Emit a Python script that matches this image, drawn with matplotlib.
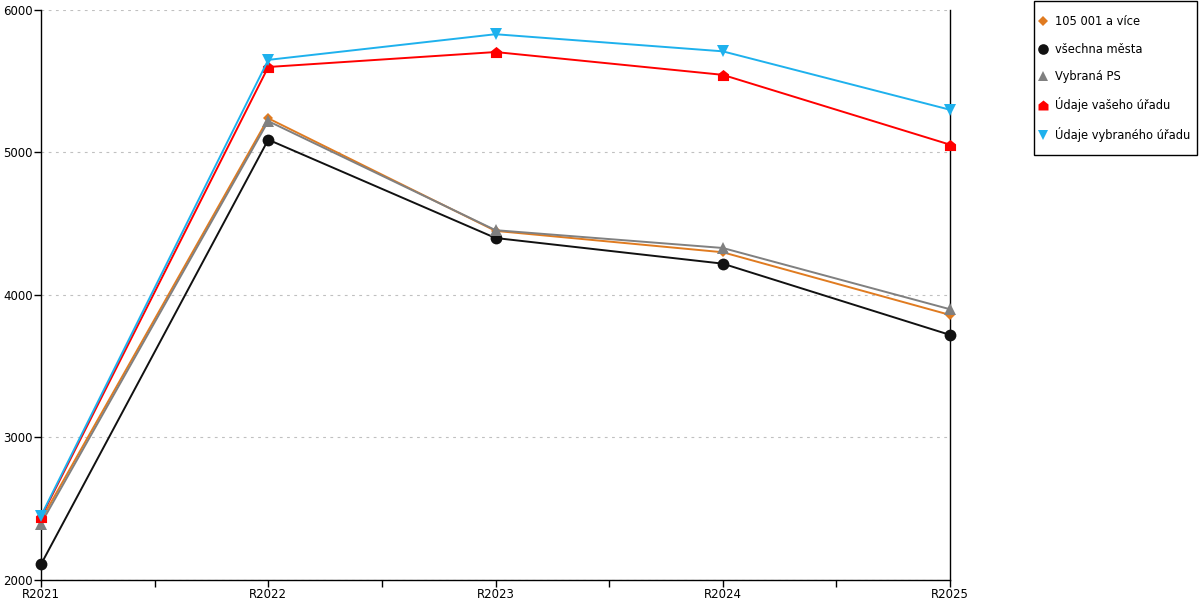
import matplotlib
matplotlib.use("Agg")
import matplotlib.pyplot as plt
from matplotlib.path import Path
from matplotlib.patches import Rectangle
from matplotlib.ticker import FixedLocator

years = ["R2021", "R2022", "R2023", "R2024", "R2025"]
city_big = [2420, 5240, 4450, 4300, 3860]
all_cities = [2110, 5090, 4400, 4220, 3720]
chosen_ps = [2395, 5220, 4455, 4330, 3900]
your_office = [2440, 5600, 5705, 5545, 5055]
chosen_office = [2450, 5650, 5830, 5710, 5300]

house = Path([(-1, -1), (1, -1), (1, 0.2), (0, 1), (-1, 0.2), (-1, -1)],
             [Path.MOVETO, Path.LINETO, Path.LINETO, Path.LINETO, Path.LINETO, Path.CLOSEPOLY])

series = [
    ("105 001 a více", city_big, "#e07b20", "D", 5.5),
    ("všechna města", all_cities, "#111111", "o", 8.5),
    ("Vybraná PS", chosen_ps, "#808080", "^", 8.5),
    ("Údaje vašeho úřadu", your_office, "#ff0000", house, 8),
    ("Údaje vybraného úřadu", chosen_office, "#1eb1ed", "v", 8.5),
]

plt.rcParams["font.family"] = "DejaVu Sans"
fig = plt.figure(figsize=(12, 6), dpi=100)
ax = fig.add_axes([41 / 1200, 20 / 600, 909 / 1200, 570 / 600])

x = list(range(len(years)))
handles = []
for label, vals, color, marker, ms in series:
    h, = ax.plot(x, vals, color=color, lw=1.4, marker=marker, ms=ms,
                 markeredgewidth=0, label=label, clip_on=False, zorder=3)
    handles.append(h)

ax.set_xlim(0, 4)
ax.set_ylim(2000, 6000)
ax.set_xticks(x)
ax.set_xticklabels(years)
ax.xaxis.set_minor_locator(FixedLocator([0.5, 1.5, 2.5, 3.5]))
ax.set_yticks([2000, 3000, 4000, 5000, 6000])
ax.tick_params(axis="both", which="both", direction="out", length=5, width=1,
               labelsize=8.5, pad=1)
ax.yaxis.grid(True, linestyle=(0, (2.5, 4)), color="#c0c0c0", lw=0.8)
ax.set_axisbelow(True)
ax.spines["top"].set_visible(False)
for s in ["left", "bottom", "right"]:
    ax.spines[s].set_color("black")
    ax.spines[s].set_linewidth(1)

# legend box drawn separately so the inner padding can match
fig.patches.append(Rectangle((1034 / 1200, 445 / 600), 163 / 1200, 154 / 600,
                             transform=fig.transFigure, fill=False,
                             edgecolor="black", linewidth=1))
leg = fig.legend(handles=handles, loc="center left",
                 bbox_to_anchor=(1039 / 1200, (600 - 78.5) / 600),
                 frameon=False, fontsize=8.3,
                 handlelength=0.7, handletextpad=0.7, labelspacing=1.25,
                 borderpad=0, borderaxespad=0, markerscale=0.9)
for line in leg.get_lines():
    line.set_linestyle("none")

fig.savefig("out.png", dpi=100)
